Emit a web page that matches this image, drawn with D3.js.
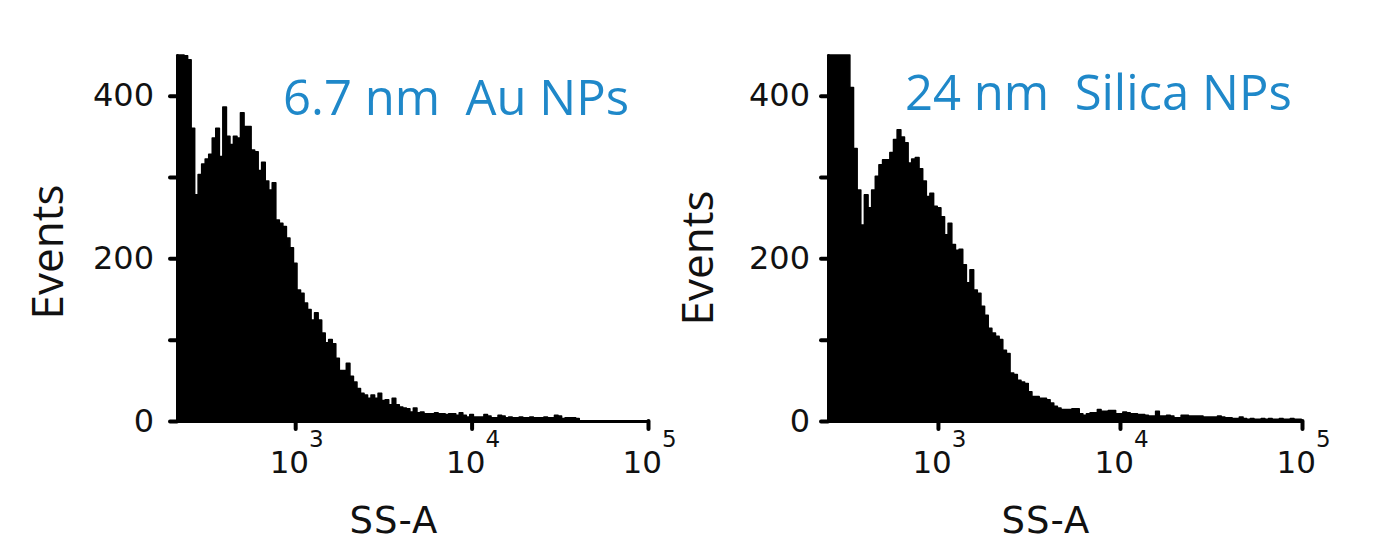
<!DOCTYPE html>
<html><head><meta charset="utf-8">
<script src="https://cdn.jsdelivr.net/npm/d3@7"></script>
<style>body{margin:0;background:#fff} svg{display:block}</style>
</head><body><svg id="c" width="1383" height="557"></svg>
<script>
// ---- data ----
const leftCounts = [450,450,449,444,360,278,303,316,322,328,348,360,325,386,350,340,350,348,379,362,
  362,333,331,308,318,295,284,293,247,243,239,225,213,194,161,157,145,137,124,133,
  124,108,96,100,95,77,62,62,71,55,48,40,34,32,28,32,28,34,25,26,
  20,28,20,17,16,15,11,16,10,11,9,9,9,10,9,9,8,9,9,7,
  10,7,5,8,5,5,5,8,6,4,4,7,6,4,5,4,4,5,4,4,
  5,4,4,4,5,4,4,7,6,3,4,4,4,3];
const rightCounts = [450,450,450,450,450,450,410,335,284,241,278,262,284,301,315,321,321,330,346,358,
  349,342,317,322,324,310,295,276,280,264,262,251,229,243,217,210,211,192,170,186,
  161,157,141,130,114,108,104,100,87,83,59,57,50,48,46,36,30,30,28,28,
  26,22,18,16,14,14,14,15,15,9,7,9,10,10,14,12,12,13,13,9,
  9,11,10,9,9,8,8,7,6,6,12,6,6,7,6,4,4,7,7,6,
  6,6,6,5,5,5,5,6,5,4,4,3,3,5,3,2,3,2,2,3,
  2,3,2,2,3,2,2,3,2,2];
const binsPerDecade = 50;
const leftFirstBinLog = 2.33;
const rightFirstBinLog = 2.396;
const xMax = 1e5;
const yMax = 450;
const yTicks = [0,100,200,300,400];
const yTickLabels = {0:"0",200:"200",400:"400"};
const xTicks = [1e3,1e4,1e5];
const xTickExponents = ["3","4","5"];
const titles = ["6.7 nm\u00a0\u00a0Au NPs","24 nm\u00a0\u00a0Silica NPs"];
const xLabel = "SS-A";
const yLabel = "Events";

// ---- drawing ----
const svg = d3.select("#c");
const panels = [
  {counts:leftCounts, first:leftFirstBinLog, x0:177, x1:648, title:titles[0], tx:283, ty:115, ylx:63, yly:252, xlx:394, lblPad:16},
  {counts:rightCounts, first:rightFirstBinLog, x0:828, x1:1302, title:titles[1], tx:905, ty:110, ylx:713, yly:258, xlx:1046, lblPad:11}
];
const yBottom = 421, yTop = 55;

panels.forEach(p => {
  const x = d3.scaleLog().domain([10**p.first, xMax]).range([p.x0, p.x1]);
  const y = d3.scaleLinear().domain([0, yMax]).range([yBottom, yTop]).clamp(true);
  const g = svg.append("g");

  const pts = p.counts.map((c,i) => ({v:10**(p.first + i/binsPerDecade), c}));
  pts.push({v:10**(p.first + p.counts.length/binsPerDecade), c:p.counts[p.counts.length-1]});
  const area = d3.area().curve(d3.curveStepAfter)
    .x(d => x(d.v)).y0(y(0)).y1(d => y(d.c));
  g.append("path").datum(pts).attr("d", area)
    .attr("fill","#000").attr("stroke","#000").attr("stroke-width",1.6).attr("stroke-linejoin","round");

  // y axis
  const ya = g.append("g").attr("transform",`translate(${p.x0},0)`)
    .call(d3.axisLeft(y).tickValues(yTicks).tickSize(7).tickSizeOuter(0).tickPadding(p.lblPad)
      .tickFormat(d => yTickLabels[d] || ""));
  ya.select(".domain").attr("stroke-width",3).attr("stroke-linecap","round");
  ya.selectAll(".tick line").attr("stroke-width",4).attr("stroke-linecap","round");
  ya.selectAll(".tick text").attr("font-family","DejaVu Sans").attr("font-size",32).attr("fill","#111");

  // x axis
  const xa = g.append("g").attr("transform",`translate(0,${yBottom})`)
    .call(d3.axisBottom(x).tickValues(xTicks).tickSize(8).tickSizeOuter(0).tickFormat(""));
  xa.select(".domain").attr("stroke-width",3).attr("stroke-linecap","round");
  xa.selectAll(".tick line").attr("stroke-width",4).attr("stroke-linecap","round");
  xa.selectAll(".tick text").each(function(d,i){
    const t = d3.select(this).text(null).attr("x",1).attr("y",52).attr("dy",null)
      .attr("font-family","DejaVu Sans").attr("fill","#111").attr("text-anchor","middle");
    t.append("tspan").attr("font-size",31).text("10");
    t.append("tspan").attr("dy",-26).attr("font-size",23).text(xTickExponents[i]);
  });

  // titles & labels
  g.append("text").attr("x",p.tx).attr("y",p.ty).attr("font-family","Open Sans").attr("font-size",49)
    .attr("fill","#1f88c9").text(p.title);
  g.append("text").attr("transform",`translate(${p.ylx},${p.yly}) rotate(-90)`).attr("text-anchor","middle")
    .attr("font-family","Open Sans").attr("font-size",44).attr("fill","#111").text(yLabel);
  g.append("text").attr("x",p.xlx).attr("y",533).attr("text-anchor","middle")
    .attr("font-family","DejaVu Sans").attr("font-size",37).attr("letter-spacing",1).attr("fill","#111").text(xLabel);
});
</script></body></html>
